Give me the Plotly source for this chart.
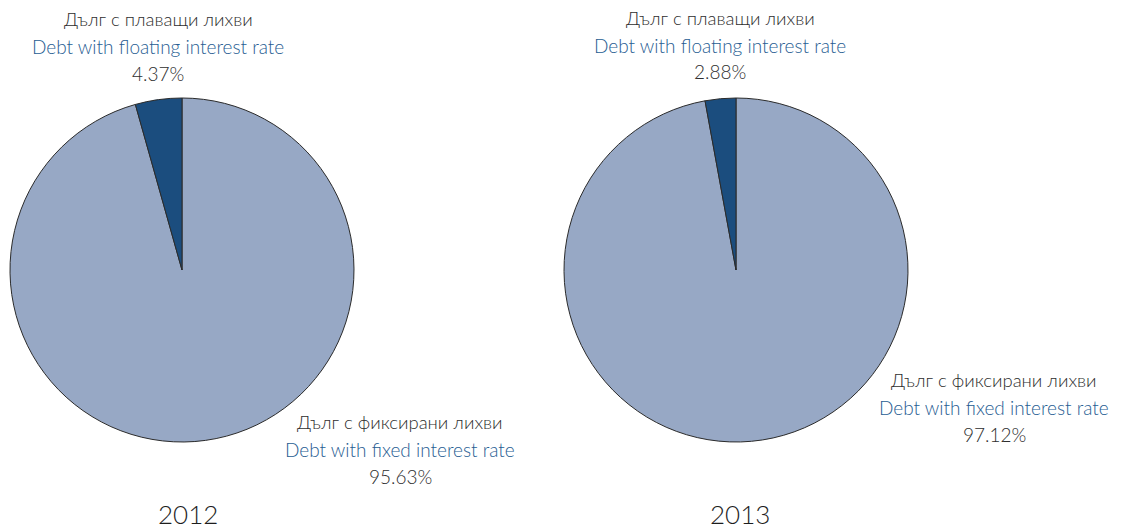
import plotly.graph_objects as go

years = ["2012", "2013"]
labels_bg = ["Дълг с плаващи лихви", "Дълг с фиксирани лихви"]
labels_en = ["Debt with floating interest rate", "Debt with fixed interest rate"]
values_2012 = [4.37, 95.63]
values_2013 = [2.88, 97.12]
colors = ["#1B4D7E", "#97A8C5"]

W, H = 1121, 530

def px(x):
    return x / W

def py(y):
    return 1 - y / H

fig = go.Figure()
pies = [
    (values_2012, (10, 354)),
    (values_2013, (564, 908)),
]
for vals, (x0, x1) in pies:
    # fixed slice first, drawn clockwise from 12 o'clock, so floating ends at 12 o'clock on the left
    fig.add_trace(go.Pie(
        labels=labels_en[::-1], values=vals[::-1], sort=False, direction="clockwise",
        rotation=0, textinfo="none", hoverinfo="label+percent",
        marker=dict(colors=colors[::-1], line=dict(color="#2b2b2b", width=1)),
        domain=dict(x=[px(x0), px(x1)], y=[py(442), py(98)]),
        showlegend=False,
    ))

FONT = "Lato"
gray = "#2e2e2e"
blue = "#275D92"

def block(cx, ys, vals, i):
    out = []
    texts = [(labels_bg[i], gray, 18.5), (labels_en[i], blue, 19), (f"{vals[i]:.2f}%", gray, 19)]
    for (t, c, s), y in zip(texts, ys):
        out.append(dict(x=px(cx), y=py(y), xref="paper", yref="paper", text=t,
                        showarrow=False, xanchor="center", yanchor="middle",
                        font=dict(family=FONT, size=s, color=c, weight=300)))
    return out

ann = []
ann += block(158, [19, 47, 74], values_2012, 0)
ann += block(400, [422, 449, 476], values_2012, 1)
ann += block(720, [18, 46, 72], values_2013, 0)
ann += block(994, [380, 407, 434], values_2013, 1)
for x, t in [(188, years[0]), (740, years[1])]:
    ann.append(dict(x=px(x), y=py(514), xref="paper", yref="paper", text=t,
                    showarrow=False, xanchor="center", yanchor="middle",
                    font=dict(family=FONT, size=26, color="#1e1e1e", weight=300)))

fig.update_layout(width=W, height=H, margin=dict(l=0, r=0, t=0, b=0),
                  paper_bgcolor="white", plot_bgcolor="white", annotations=ann)
fig.write_html("out.html", post_script="document.body.style.margin='0';",
               config={"displayModeBar": False})
